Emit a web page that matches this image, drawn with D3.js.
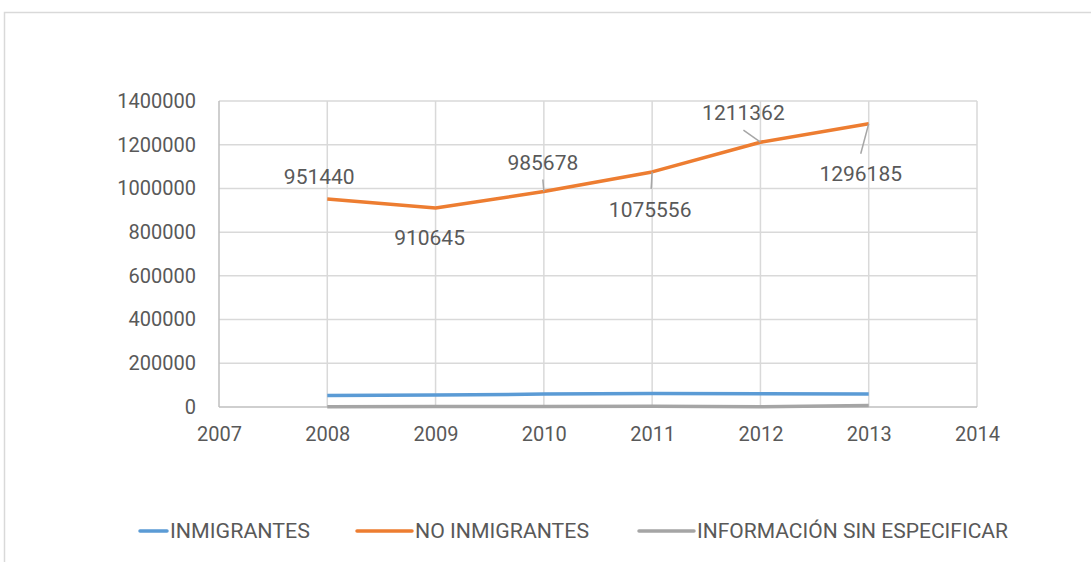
<!DOCTYPE html>
<html>
<head>
<meta charset="utf-8">
<script src="https://cdn.jsdelivr.net/npm/d3@7"></script>
<style>
  body { margin: 0; background: #fff; }
  text { font-family: Roboto, "Open Sans", sans-serif; fill: #595959; }
</style>
</head>
<body>
<div id="vis"></div>
<script>
// data
const years = [2008, 2009, 2010, 2011, 2012, 2013];
const inmigrantes = [53000, 55000, 59000, 62000, 61000, 59000];
const noInmigrantes = [951440, 910645, 985678, 1075556, 1211362, 1296185];
const sinEspecificar = [1500, 1800, 2200, 3500, 1500, 6500];
const yTicks = [0, 200000, 400000, 600000, 800000, 1000000, 1200000, 1400000];
const xTicks = [2007, 2008, 2009, 2010, 2011, 2012, 2013, 2014];
const seriesNames = ['INMIGRANTES', 'NO INMIGRANTES', 'INFORMACIÓN SIN ESPECIFICAR'];
const colors = ['#5b9bd5', '#ed7d31', '#a5a5a5'];

// label offsets (dx, dy of baseline) from each orange point, leader line ends
const labelOffsets = [[-8, -15], [-6, 37], [-1, -22], [-2, 45], [-17, -22], [-8, 57]];
const leaderEnds = [null, null, [-1, -12], [-1, 17], [-17, -12], [-8, 30]];

let W = 1091, H = 562;
let margin = {left: 219, right: 114, top: 101, bottom: 155};

let svg = d3.select('#vis')
  .append('svg')
  .attr('width', W)
  .attr('height', H);

// outer chart frame
svg.append('rect')
  .attr('x', 4.5).attr('y', 12.5)
  .attr('width', 1200).attr('height', 700)
  .attr('fill', 'none')
  .attr('stroke', '#d9d9d9')
  .attr('stroke-width', 1.5);

let x = d3.scaleLinear().domain([2007, 2014]).range([margin.left, W - margin.right]);
let y = d3.scaleLinear().domain([0, 1400000]).range([H - margin.bottom, margin.top]);

// gridlines
svg.append('g')
  .selectAll('line.h')
  .data(yTicks.slice(1))
  .join('line')
  .attr('x1', x(2007)).attr('x2', x(2014))
  .attr('y1', d => y(d)).attr('y2', d => y(d))
  .attr('stroke', '#d9d9d9').attr('stroke-width', 1.5);

svg.append('g')
  .selectAll('line.v')
  .data(xTicks.slice(1))
  .join('line')
  .attr('x1', d => x(d)).attr('x2', d => x(d))
  .attr('y1', y(0)).attr('y2', y(1400000))
  .attr('stroke', '#d9d9d9').attr('stroke-width', 1.5);

// axis lines
svg.append('line')
  .attr('x1', x(2007)).attr('x2', x(2007))
  .attr('y1', y(0)).attr('y2', y(1400000))
  .attr('stroke', '#bfbfbf').attr('stroke-width', 1.5);
svg.append('line')
  .attr('x1', x(2007)).attr('x2', x(2014))
  .attr('y1', y(0)).attr('y2', y(0))
  .attr('stroke', '#bfbfbf').attr('stroke-width', 1.5);

// axes via d3, without domain/ticks
let yAxis = d3.axisLeft(y).tickValues(yTicks).tickFormat(d3.format('d')).tickSize(0).tickPadding(23);
let gy = svg.append('g').attr('transform', `translate(${x(2007)},0)`).call(yAxis);
gy.select('.domain').remove();
gy.selectAll('text').style('font-size', '20px').style('font-family', 'Roboto').attr('fill', '#595959');

let xAxis = d3.axisBottom(x).tickValues(xTicks).tickFormat(d3.format('d')).tickSize(0).tickPadding(20);
let gx = svg.append('g').attr('transform', `translate(0,${y(0)})`).call(xAxis);
gx.select('.domain').remove();
gx.selectAll('text').style('font-size', '20px').style('font-family', 'Roboto').attr('fill', '#595959');

// lines
let line = d3.line().x(d => x(d[0])).y(d => y(d[1]));
let allSeries = [inmigrantes, noInmigrantes, sinEspecificar];
[2, 0, 1].forEach(i => {
  svg.append('path')
    .datum(years.map((yr, j) => [yr, allSeries[i][j]]))
    .attr('d', line)
    .attr('fill', 'none')
    .attr('stroke', colors[i])
    .attr('stroke-width', 3.5)
    .attr('stroke-linejoin', 'round');
});

// leader lines
svg.append('g')
  .selectAll('line')
  .data(years.map((yr, j) => ({yr, v: noInmigrantes[j], e: leaderEnds[j]})).filter(d => d.e))
  .join('line')
  .attr('x1', d => x(d.yr)).attr('y1', d => y(d.v))
  .attr('x2', d => x(d.yr) + d.e[0]).attr('y2', d => y(d.v) + d.e[1])
  .attr('stroke', '#a6a6a6').attr('stroke-width', 1.5);

// data labels
svg.append('g')
  .selectAll('text')
  .data(years.map((yr, j) => ({yr, v: noInmigrantes[j], o: labelOffsets[j]})))
  .join('text')
  .attr('x', d => x(d.yr) + d.o[0])
  .attr('y', d => y(d.v) + d.o[1])
  .attr('text-anchor', 'middle')
  .style('font-size', '21px')
  .text(d => d.v);

// legend
let legendX = [140, 357, 639];
let legendLine = [27, 55, 55];
let legendW = [140, 174, 311];
let legend = svg.append('g')
  .selectAll('g')
  .data(seriesNames)
  .join('g')
  .attr('transform', (d, i) => `translate(${legendX[i]},531)`);
legend.append('line')
  .attr('x1', 0)
  .attr('x2', (d, i) => legendLine[i])
  .attr('stroke', (d, i) => colors[i])
  .attr('stroke-width', 3.5)
  .attr('stroke-linecap', 'round');
legend.append('text')
  .attr('x', (d, i) => legendLine[i] + 3)
  .attr('dy', '0.36em')
  .attr('textLength', (d, i) => legendW[i])
  .attr('lengthAdjust', 'spacingAndGlyphs')
  .style('font-size', '20px')
  .text(d => d);
</script>
</body>
</html>
